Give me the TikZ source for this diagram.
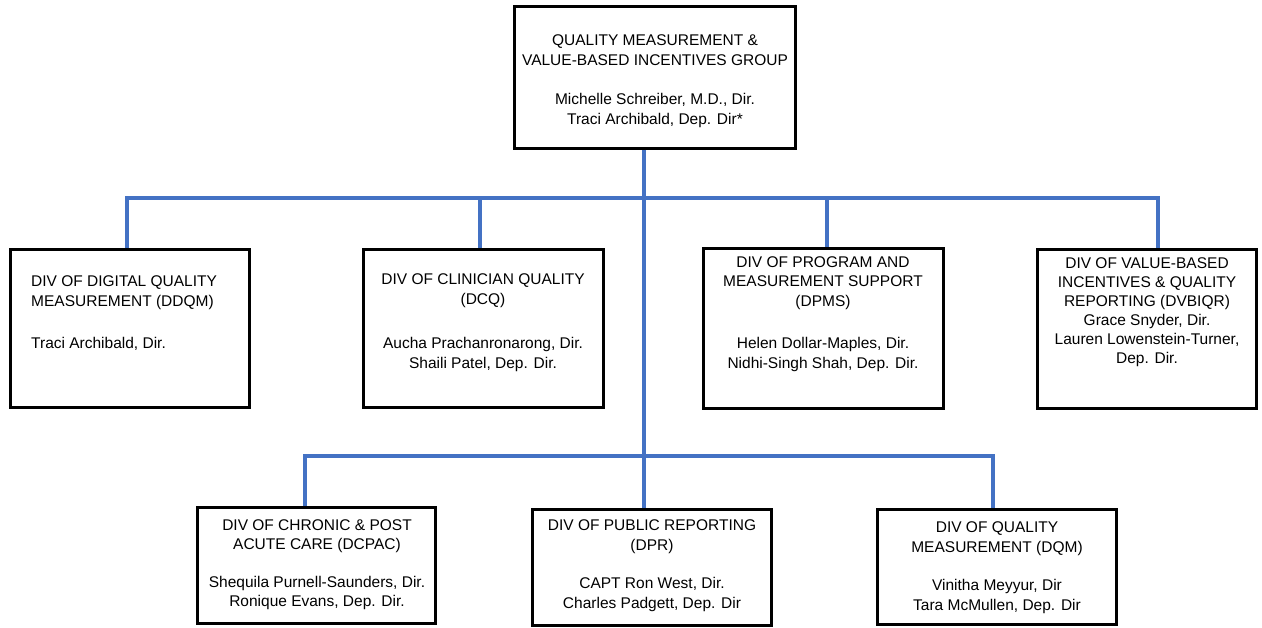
\documentclass[tikz,border=0pt]{standalone}
\usepackage{fontspec}
\setmainfont{Liberation Sans}
\usepackage{xcolor}
\usepackage{tikz}
\usetikzlibrary{positioning}

\definecolor{orgblue}{HTML}{4472C4}

\tikzset{
  divbox/.style={draw=black, line width=3pt, inner sep=0pt, minimum width=239pt, minimum height=158pt},
  divtext/.style={align=center, inner sep=0pt, font=\fontsize{15.5}{19.5}\selectfont},
  link/.style={draw=orgblue, line width=3.8pt},
}

\begin{document}
\begin{tikzpicture}[x=1pt,y=-1pt]
    \useasboundingbox (0,0) rectangle (1262,628);

    % group box
    \node[divbox, minimum width=281pt, minimum height=142pt] (top) at (655,77.5) {};
    \node[divtext] (top-txt) at (655,81) {QUALITY MEASUREMENT \&\\VALUE-BASED INCENTIVES GROUP\\[20pt]Michelle Schreiber, M.D., Dir.\\Traci Archibald, Dep. Dir*};

    % first row
    \node[divbox] (ddqm) at (130,328.5) {};
    \node[divtext, align=left, anchor=west] (ddqm-txt) at (31,313.5) {DIV OF DIGITAL QUALITY\\MEASUREMENT (DDQM)\\[23pt]Traci Archibald, Dir.};

    \node[divbox, minimum width=240pt] (dcq) at (483.5,328.5) {};
    \node[divtext] (dcq-txt) at (483,322.5) {DIV OF CLINICIAN QUALITY\\(DCQ)\\[25pt]Aucha Prachanronarong, Dir.\\Shaili Patel, Dep. Dir.};

    \node[divbox, minimum width=240pt, minimum height=160pt] (dpms) at (823.5,328.5) {};
    \node[divtext] (dpms-txt) at (823,314) {DIV OF PROGRAM AND\\MEASUREMENT SUPPORT\\(DPMS)\\[23pt]Helen Dollar-Maples, Dir.\\Nidhi-Singh Shah, Dep. Dir.};

    \node[divbox, minimum width=219pt, minimum height=159pt] (dvbiqr) at (1147,329) {};
    \node[divtext, font=\fontsize{15.5}{19}\selectfont] (dvbiqr-txt) at (1147,312.5) {DIV OF VALUE-BASED\\INCENTIVES \& QUALITY\\REPORTING (DVBIQR)\\Grace Snyder, Dir.\\Lauren Lowenstein-Turner,\\Dep. Dir.};

    % second row
    \node[divbox, minimum width=238pt, minimum height=116pt] (dcpac) at (316.5,565.5) {};
    \node[divtext] (dcpac-txt) at (317,564.5) {DIV OF CHRONIC \& POST\\ACUTE CARE (DCPAC)\\[18pt]Shequila Purnell-Saunders, Dir.\\Ronique Evans, Dep. Dir.};

    \node[divbox, minimum height=116pt] (dpr) at (652,567.5) {};
    \node[divtext] (dpr-txt) at (652,565.5) {DIV OF PUBLIC REPORTING\\(DPR)\\[19pt]CAPT Ron West, Dir.\\Charles Padgett, Dep. Dir};

    \node[divbox, minimum height=115pt] (dqm) at (997,567) {};
    \node[divtext] (dqm-txt) at (997,567.5) {DIV OF QUALITY\\MEASUREMENT (DQM)\\[19pt]Vinitha Meyyur, Dir\\Tara McMullen, Dep. Dir};

    % bus points
    \coordinate (hub) at (644,198);
    \coordinate (d1) at (127,198);
    \coordinate (d2) at (480,198);
    \coordinate (d3) at (827,198);
    \coordinate (d4) at (1158,198);
    \coordinate (e1) at (305,456);
    \coordinate (e2) at (993,456);

    % connectors
    \draw[link] (d1 |- ddqm.north) -- (d1) -- (d4) -- (d4 |- dvbiqr.north);
    \draw[link] (d2) -- (d2 |- dcq.north);
    \draw[link] (d3) -- (d3 |- dpms.north);
    \draw[link] (hub |- top.south) -- (hub |- dpr.north);
    \draw[link] (e1 |- dcpac.north) -- (e1) -- (e2) -- (e2 |- dqm.north);
\end{tikzpicture}
\end{document}
